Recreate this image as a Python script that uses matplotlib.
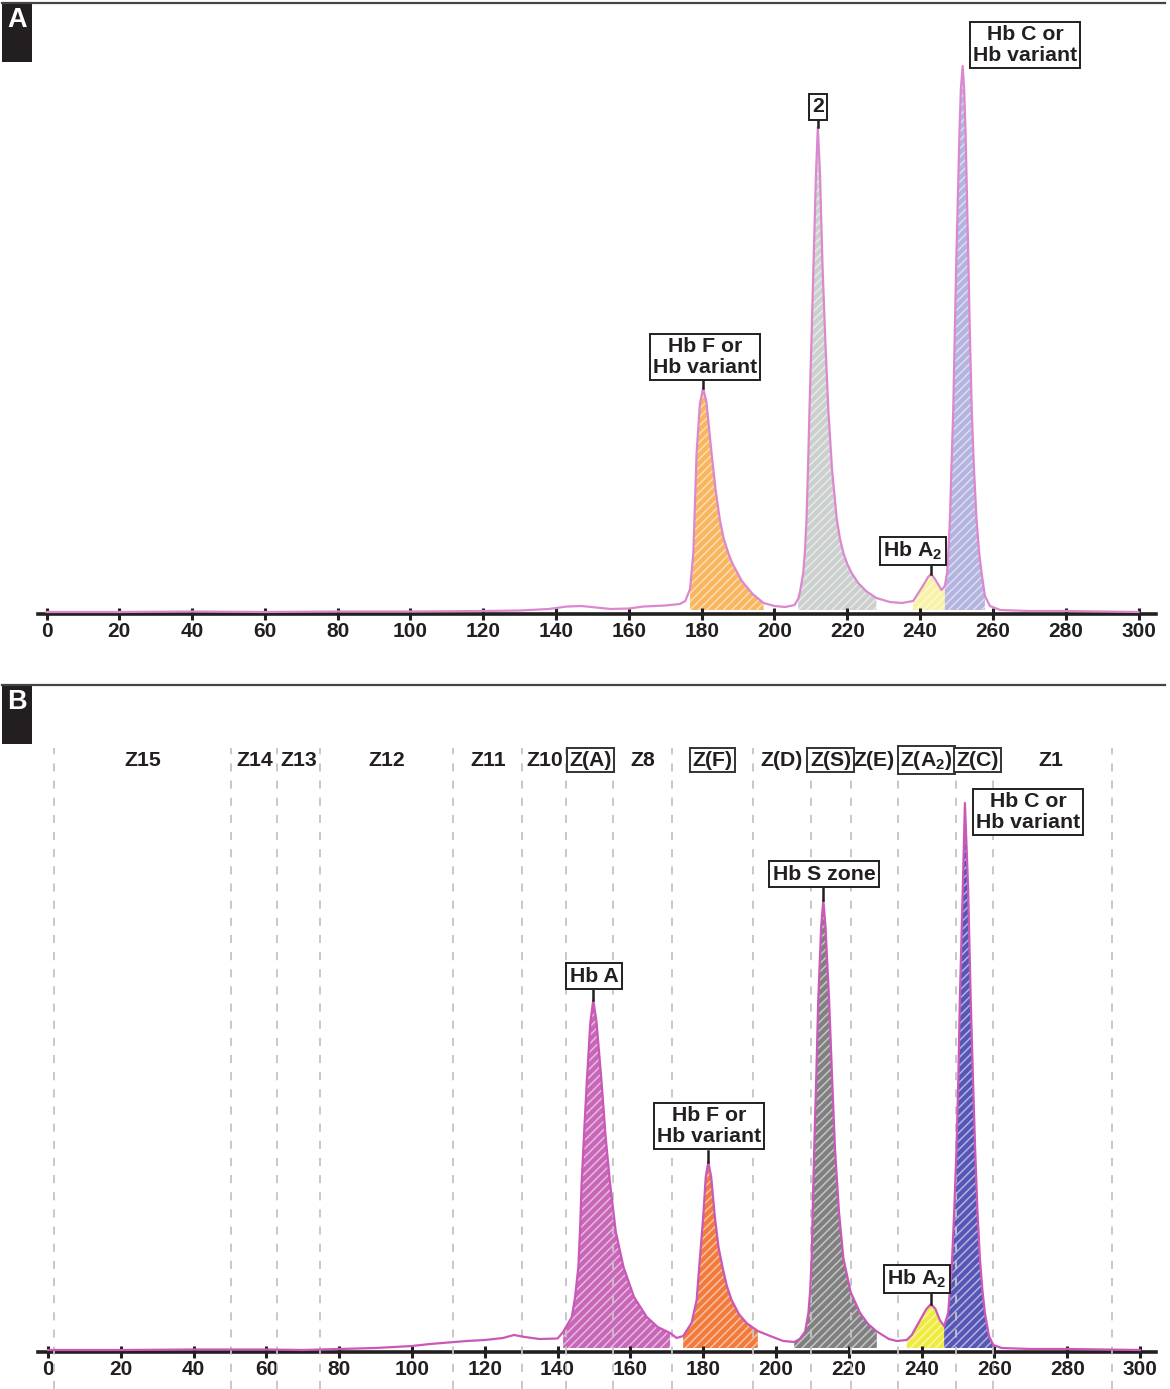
import matplotlib
matplotlib.use("Agg")
import matplotlib.pyplot as plt
import numpy as np
from matplotlib.patches import Rectangle
from matplotlib.lines import Line2D

plt.rcParams['font.family'] = ['Liberation Sans', 'DejaVu Sans']
plt.rcParams['font.weight'] = 'bold'
plt.rcParams['mathtext.fontset'] = 'custom'
plt.rcParams['mathtext.bf'] = 'Liberation Sans:bold'
plt.rcParams['mathtext.rm'] = 'Liberation Sans:bold'
plt.rcParams['mathtext.default'] = 'bf'
plt.rcParams['hatch.linewidth'] = 1.1

# ---- panel A trace (retention time, signal) ----
time_a = [0, 20, 40, 60, 80, 100, 120, 130, 138, 143, 147, 151, 155, 160, 164, 170, 174,
          175.5, 176.8, 177.7, 178.6, 179.5, 180.4, 181.3, 182.7, 183.8, 185, 186, 187.3,
          188.5, 190, 191, 192.4, 194, 195, 197, 200, 203, 205.5, 206.5, 207, 207.9, 208.4,
          208.8, 209.2, 209.6, 210.2, 210.7, 211.4, 211.9, 212.5, 213.2, 214, 214.8, 215.8,
          217.1, 218, 219, 220, 221.2, 223, 225.3, 228, 231.7, 235, 238.1, 240.9, 242.2,
          243, 243.9, 245.9, 246.8, 247.4, 247.8, 248.2, 248.6, 249.1, 249.5, 249.9, 250.8,
          251.2, 251.7, 252.1, 252.5, 253.3, 253.7, 254.2, 254.8, 255.5, 256.2, 256.9,
          257.8, 259.2, 262, 270, 280, 290, 300]
signal_a = [2, 2, 2.5, 2, 2.5, 2.5, 3, 3.5, 5, 7.5, 8, 6.5, 5, 5.5, 7.5, 8.5, 10,
            13, 25, 61, 161, 210, 226, 212, 161, 125, 94, 76, 61,
            50, 40, 33, 27, 20, 17, 11, 8, 7, 9, 15, 22, 41, 65,
            95, 145, 203, 280, 347, 440, 487, 440, 347, 270, 203, 145,
            95, 75, 60, 50, 41, 31, 22.5, 16, 12, 11, 13, 29, 37,
            40, 36, 24, 28, 41, 65, 95, 145, 203, 275, 347, 480,
            525, 548, 525, 480, 347, 275, 203, 145, 95, 62, 41,
            18, 8, 4, 3, 3, 2.5, 2]

# ---- panel B trace ----
time_b = [0, 20, 40, 60, 70, 80, 90, 100, 105, 110, 115, 120, 125, 128, 131, 135, 140,
          141.5, 143.9, 144.8, 145.7, 146.2, 146.6, 147.3, 148, 149, 149.8, 150.7, 152.1,
          153.2, 154.4, 156, 158.1, 161, 164.5, 167.5, 170.9, 172.7, 174.5, 176.8, 178.2,
          178.9, 179.5, 180, 180.7, 181.4, 182.2, 183.2, 184.2, 185.3, 186.5, 187.8, 189.8,
          191.9, 195, 198.4, 202, 205, 206.5, 208, 208.9, 209.4, 209.8, 210.1, 210.5, 211.1,
          211.6, 212.4, 213, 213.6, 214.6, 215.4, 216.2, 217.3, 218.5, 220.5, 223.1, 225.3,
          227.7, 231, 233.2, 235.9, 237.3, 239.6, 241.3, 242.6, 243.8, 245, 246.2, 247.3,
          247.8, 248.4, 249, 249.6, 250.1, 250.5, 251.3, 251.9, 252.8, 253.5, 254.1, 254.7,
          255.3, 256, 256.7, 257.4, 258.5, 259.7, 262, 270, 280, 290, 300]
signal_b = [2, 2, 2.5, 2.5, 2, 3, 4, 6, 8, 9.5, 11, 12, 14, 17, 15, 13, 13.5,
            20, 35, 55, 85, 125, 169, 220, 269, 330, 352, 330, 269,
            215, 169, 120, 85, 55, 35, 25, 19, 14, 16, 29, 52,
            85, 112, 135, 175, 190, 175, 135, 105, 85, 66, 52, 38,
            29, 21, 16, 11, 10, 13, 20.5, 39, 62, 94, 145, 204, 280,
            351, 425, 452, 425, 351, 275, 204, 140, 94, 60, 39, 28,
            20.5, 13, 11, 12, 17, 32, 43, 48, 43, 32, 26, 39,
            62, 94, 145, 204, 275, 351, 462, 549, 462, 351, 275, 204,
            145, 94, 62, 39, 16, 7, 4, 3, 3, 2.5, 2]

# shaded peak windows (start, end, colour)
peaks_a = [(176.8, 197, '#f9b65e'), (206.5, 228, '#cbd0cf'),
           (237.5, 246.8, '#f8f3a4'), (246.8, 258.5, '#b4b4e0')]
peaks_b = [(141.5, 170.9, '#c866b8'), (174.5, 195, '#f27a3a'), (205, 227.7, '#808080'),
           (235.9, 246.2, '#efeb3e'), (246.2, 259.7, '#5656b6')]

ticks = list(range(0, 301, 20))

zone_edges = [1.6, 50.3, 62.9, 74.7, 111.3, 130.2, 142.2, 155.3, 171.5, 193.8, 209.5,
              220.7, 233.6, 249.5, 259.7, 292.3]
zone_names = ['Z15', 'Z14', 'Z13', 'Z12', 'Z11', 'Z10', 'Z(A)', 'Z8', 'Z(F)', 'Z(D)',
              'Z(S)', 'Z(E)', 'Z(A$_2$)', 'Z(C)', 'Z1']
zone_pos = [26.1, 56.9, 69.0, 93.1, 120.9, 136.5, 149.1, 163.5, 182.6, 201.6, 215.0,
            226.8, 241.3, 255.3, 275.5]
zone_boxed = [False, False, False, False, False, False, True, False, True, False,
              True, False, True, True, False]

W, H = 1170, 1389
fig = plt.figure(figsize=(W / 100, H / 100), dpi=100)

ink = '#231f20'


def setup(ax, x0):
    for s in ['left', 'right', 'top']:
        ax.spines[s].set_visible(False)
    ax.spines['bottom'].set_linewidth(2.6)
    ax.spines['bottom'].set_color(ink)
    ax.set_yticks([])
    ax.set_xticks(ticks)
    ax.tick_params(axis='x', direction='inout', length=8, width=2.2, color=ink,
                   labelsize=15, pad=2, labelcolor=ink)
    ax.set_xlim((38 - x0) / 3.64, (1156 - x0) / 3.64)
    ax.patch.set_alpha(0)


def draw_trace(ax, t, y, peaks, lc):
    t = np.array(t)
    y = np.array(y)
    for a, b, c in peaks:
        m = (t >= a) & (t <= b)
        ax.fill_between(t[m], y[m], 4, facecolor=c, edgecolor=(1, 1, 1, 0.55),
                        hatch='////', linewidth=0, zorder=1)
    ax.plot(t, y, color=lc, lw=1.6, zorder=4, solid_joinstyle='round')


def label(ax, x, y, s, lead=None):
    ax.text(x, y, s, ha='center', va='center', fontsize=15.3, linespacing=1.08,
            color=ink, zorder=6,
            bbox=dict(boxstyle='square,pad=0.15', fc='white', ec=ink, lw=1.4))
    if lead:
        ax.plot([lead[0], lead[0]], [lead[1], lead[2]], color=ink, lw=1.8, zorder=5)


# ---- panel A ----
axA = fig.add_axes([38 / W, 1 - 614 / H, (1156 - 38) / W, 611 / H])
setup(axA, 46.5)
axA.set_ylim(0, 611)
draw_trace(axA, time_a, signal_a, peaks_a, '#dc88cf')
label(axA, 180.9, 257, 'Hb F or\nHb variant', (180.4, 235, 226))
label(axA, 211.9, 507, '2', (211.9, 495, 487))
label(axA, 268.8, 569, 'Hb C or\nHb variant')
label(axA, 238.0, 63, 'Hb A$_2$', (243.0, 49, 40))

# ---- panel B ----
axB = fig.add_axes([38 / W, 1 - 1352 / H, (1156 - 38) / W, 667 / H])
setup(axB, 48)
axB.set_ylim(0, 667)
axB.vlines(zone_edges, -37, 604, colors='#c4c4c4', linestyles=(0, (4.5, 5)), lw=1.3,
           clip_on=False, zorder=3)
draw_trace(axB, time_b, signal_b, peaks_b, '#c958b9')
for name, xp, boxed in zip(zone_names, zone_pos, zone_boxed):
    kw = {}
    if boxed:
        kw['bbox'] = dict(boxstyle='square,pad=0.12', fc='white', ec='#333333', lw=1.4)
    axB.text(xp, 592, name, ha='center', va='center', fontsize=15.3, color=ink,
             zorder=6, **kw)
label(axB, 269.2, 540, 'Hb C or\nHb variant')
label(axB, 213.2, 478, 'Hb S zone', (213.0, 466, 452))
label(axB, 150.0, 376, 'Hb A', (149.8, 364, 352))
label(axB, 181.6, 226, 'Hb F or\nHb variant', (181.4, 201, 190))
label(axB, 238.7, 73, 'Hb A$_2$', (242.6, 59, 48))

# ---- panel headers ----
for top, letter in [(3, 'A'), (685, 'B')]:
    fig.add_artist(Line2D([2 / W, 1165 / W], [1 - top / H, 1 - top / H],
                          color='#444444', lw=1.6))
    fig.add_artist(Rectangle((2 / W, 1 - (top + 59) / H), 30 / W, 59 / H,
                             facecolor=ink, edgecolor='none'))
    fig.text(17 / W, 1 - (top + 17) / H, letter, color='white', fontsize=19.5,
             ha='center', va='center')

fig.savefig('out.png', dpi=100)
